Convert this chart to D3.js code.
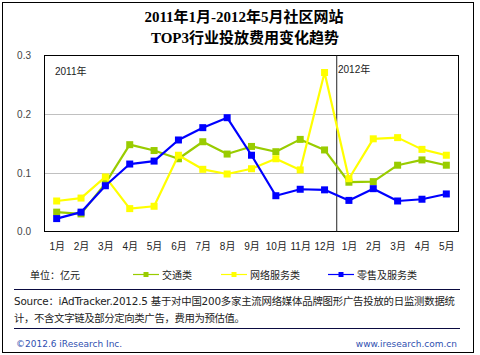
<!DOCTYPE html>
<html><head><meta charset="utf-8">
<script src="https://cdn.jsdelivr.net/npm/d3@7"></script>
<style>
html,body{margin:0;padding:0;background:#fff;}
svg{display:block;}
text{font-family:"Liberation Sans","Noto Sans CJK SC",sans-serif;}
</style></head>
<body>
<svg id="c" width="480" height="355"></svg>
<script>
const months = ["1月","2月","3月","4月","5月","6月","7月","8月","9月","10月","11月","12月","1月","2月","3月","4月","5月"];
const traffic = [0.033,0.030,0.082,0.148,0.138,0.124,0.153,0.132,0.145,0.136,0.157,0.139,0.084,0.085,0.113,0.122,0.113];
const network = [0.052,0.057,0.093,0.039,0.043,0.130,0.106,0.098,0.107,0.124,0.105,0.271,0.090,0.158,0.160,0.140,0.130];
const retail  = [0.022,0.033,0.078,0.115,0.120,0.156,0.177,0.194,0.130,0.061,0.072,0.071,0.053,0.073,0.052,0.055,0.064];
const yTicks = [0,0.1,0.2,0.3];
const seriesNames = ["交通类","网络服务类","零售及服务类"];
const seriesColors = ["#99cc00","#ffff00","#0000ff"];
const series = [traffic, network, retail];

const svg = d3.select("#c");
// outer frame
svg.append("rect").attr("x",2.5).attr("y",2.5).attr("width",471).attr("height",350)
  .attr("fill","none").attr("stroke","#000").attr("stroke-width",1);

// title
const title = svg.append("text").attr("text-anchor","middle")
  .style("font-family","'Liberation Serif','Noto Sans CJK SC',serif").style("font-weight","bold").style("font-size","15px");
title.append("tspan").attr("x",244).attr("y",22).text("2011年1月-2012年5月社区网站");
title.append("tspan").attr("x",245).attr("y",43).text("TOP3行业投放费用变化趋势");

const L=44.5, R=458.5, T=55.5, B=231.5;
const x = d3.scalePoint().domain(d3.range(months.length)).range([L,R]).padding(0.5);
const y = d3.scaleLinear().domain([0,0.3]).range([B,T]);

// gridlines
svg.append("g").selectAll("line").data(yTicks.filter(d=>d>0&&d<0.3)).join("line")
  .attr("x1",L).attr("x2",R).attr("y1",d=>Math.round(y(d))+0.5).attr("y2",d=>Math.round(y(d))+0.5)
  .attr("stroke","#c0c0c0").attr("stroke-width",1);

// y axis labels
const yAxis = d3.axisLeft(y).tickValues(yTicks).tickFormat(d3.format(".1f")).tickSize(0).tickPadding(0);
const gy = svg.append("g").attr("transform",`translate(31,0)`).call(yAxis);
gy.select(".domain").remove();
gy.selectAll("text").style("font-size","10px").attr("fill","#444").style("font-family","'Liberation Sans',sans-serif");

// x axis labels
const xAxis = d3.axisBottom(x).tickFormat(i=>months[i]).tickSize(0).tickPadding(0);
const gx = svg.append("g").attr("transform",`translate(0,243)`).call(xAxis);
gx.select(".domain").remove();
gx.selectAll("text").style("font-size","10px").attr("fill","#222").attr("dy","0.71em");

// plot border
svg.append("rect").attr("x",L).attr("y",T).attr("width",R-L).attr("height",B-T)
  .attr("fill","none").attr("stroke","#000").attr("stroke-width",1);

// year separator
const sepX = (x(11)+x(12))/2;
svg.append("line").attr("x1",sepX).attr("x2",sepX).attr("y1",T).attr("y2",B)
  .attr("stroke","#222").attr("stroke-width",1);

svg.append("text").attr("x",55).attr("y",75).style("font-size","10px").attr("fill","#222").text("2011年");
svg.append("text").attr("x",338).attr("y",73).style("font-size","10px").attr("fill","#222").text("2012年");

// series
const line = d3.line().x((d,i)=>x(i)).y(d=>y(d));
series.forEach((s,k)=>{
  const g = svg.append("g");
  g.append("path").datum(s).attr("d",line).attr("fill","none")
    .attr("stroke",seriesColors[k]).attr("stroke-width",2.2).attr("stroke-linejoin","round");
  g.selectAll("rect").data(s).join("rect")
    .attr("x",(d,i)=>x(i)-3.5).attr("y",d=>y(d)-3.5).attr("width",7).attr("height",7)
    .attr("fill",seriesColors[k]);
});

// legend
svg.append("text").attr("x",30).attr("y",279).style("font-size","10px").attr("fill","#222").text("单位：亿元");
const legX = [133,221,328];
series.forEach((s,k)=>{
  const lx = legX[k];
  svg.append("line").attr("x1",lx).attr("x2",lx+26).attr("y1",274.5).attr("y2",274.5)
    .attr("stroke",seriesColors[k]).attr("stroke-width",1.2);
  svg.append("rect").attr("x",lx+13-2.5).attr("y",272).attr("width",5).attr("height",5).attr("fill",seriesColors[k]);
  svg.append("text").attr("x",lx+29).attr("y",279).style("font-size","10px").attr("fill","#222").text(seriesNames[k]);
});

// separators
svg.append("line").attr("x1",14).attr("x2",460).attr("y1",289.5).attr("y2",289.5).attr("stroke","#0a0a40").attr("stroke-width",1);
svg.append("line").attr("x1",14).attr("x2",460).attr("y1",328.5).attr("y2",328.5).attr("stroke","#0a0a40").attr("stroke-width",1);

svg.append("text").attr("x",14).attr("y",305).style("font-size","10.4px").attr("fill","#222")
  .style("font-family","'DejaVu Sans','Noto Sans CJK SC',sans-serif")
  .attr("textLength",441).attr("lengthAdjust","spacing")
  .text("Source：iAdTracker.2012.5 基于对中国200多家主流网络媒体品牌图形广告投放的日监测数据统");
svg.append("text").attr("x",14).attr("y",322).style("font-size","10.4px").attr("fill","#222")
  .style("font-family","'DejaVu Sans','Noto Sans CJK SC',sans-serif")
  .attr("textLength",231).attr("lengthAdjust","spacing")
  .text("计，不含文字链及部分定向类广告，费用为预估值。");

svg.append("text").attr("x",16).attr("y",347).style("font-size","9px").attr("fill","#3050b0")
  .style("font-family","'DejaVu Sans',sans-serif").text("©2012.6 iResearch Inc.");
svg.append("text").attr("x",457).attr("y",347).attr("text-anchor","end").style("font-size","9px").attr("fill","#3050b0")
  .style("font-family","'DejaVu Sans',sans-serif").text("www.iresearch.com.cn");
</script>
</body></html>
